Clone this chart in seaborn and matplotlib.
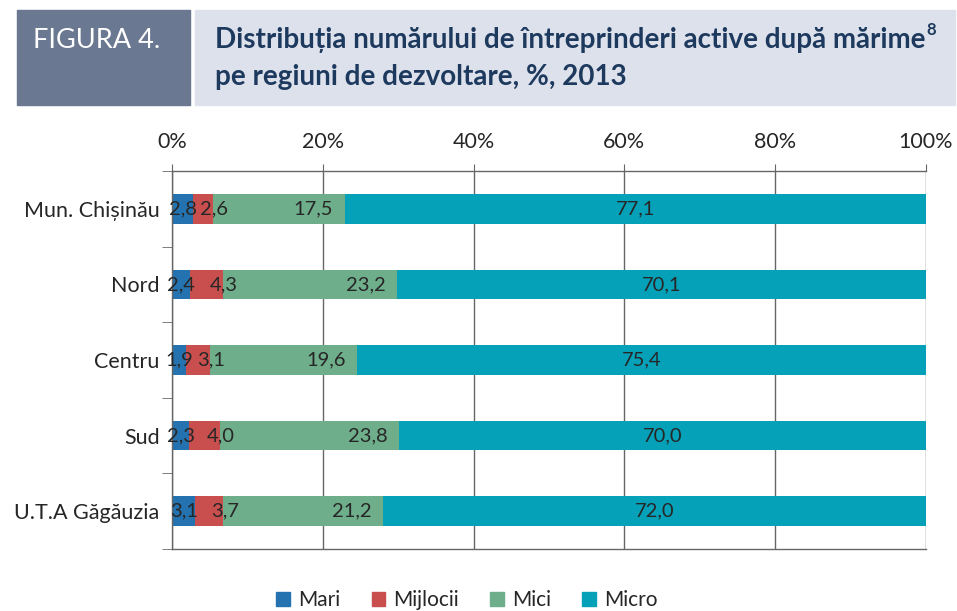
import numpy as np
import pandas as pd
import matplotlib
matplotlib.use("Agg")
import matplotlib.pyplot as plt
import matplotlib.patches as mpatches
import seaborn as sns

# data
regions = ["Mun. Chișinău", "Nord", "Centru", "Sud", "U.T.A Găgăuzia"]
series = ["Mari", "Mijlocii", "Mici", "Micro"]
mari = [2.8, 2.4, 1.9, 2.3, 3.1]
mijlocii = [2.6, 4.3, 3.1, 4.0, 3.7]
mici = [17.5, 23.2, 19.6, 23.8, 21.2]
micro = [77.1, 70.1, 75.4, 70.0, 72.0]
x_ticks = [0, 20, 40, 60, 80, 100]

colors = ["#2473b0", "#c94f4f", "#6fae8b", "#05a1b8"]

sns.set_style("white")
plt.rcParams["font.family"] = ["Lato", "DejaVu Sans"]

df = pd.DataFrame({"Regiune": regions, "Mari": mari, "Mijlocii": mijlocii,
                   "Mici": mici, "Micro": micro})
vals = df[series].to_numpy()
cum = np.cumsum(vals, axis=1)

fig = plt.figure(figsize=(9.57, 6.11), dpi=100)
ax = fig.add_axes([172 / 957, 1 - 549 / 611, (926 - 172) / 957, (549 - 171) / 611])

# stacked bars: draw cumulative totals from the back
for i in range(len(series) - 1, -1, -1):
    tmp = pd.DataFrame({"Regiune": regions, "val": cum[:, i]})
    sns.barplot(data=tmp, x="val", y="Regiune", orient="h", color=colors[i],
                width=0.39, saturation=1, ax=ax, zorder=2, linewidth=0)

# value labels
for r in range(len(regions)):
    for i in range(len(series)):
        start = cum[r, i] - vals[r, i]
        end = cum[r, i]
        txt = f"{vals[r, i]:.1f}".replace(".", ",")
        if i == 0:
            ax.text((start + end) / 2, r, txt, ha="center", va="center", fontsize=14.5, zorder=5)
        elif i == 1:
            ax.text(end + 0.2, r, txt, ha="center", va="center", fontsize=14.5, zorder=5)
        elif i == 2:
            ax.text(end - 1.5, r, txt, ha="right", va="center", fontsize=14.5, zorder=5)
        else:
            ax.text((start + end) / 2, r, txt, ha="center", va="center", fontsize=14.5, zorder=5)

ax.set_xlim(0, 100)
ax.set_ylim(4.5, -0.5)
ax.set_xticks(x_ticks)
ax.set_xticklabels([f"{t}%" for t in x_ticks], fontsize=15.5)
ax.xaxis.tick_top()
ax.tick_params(axis="x", which="major", top=True, bottom=False, length=5, color="#666666", pad=9)
ax.set_yticks(range(len(regions)))
ax.set_yticklabels(regions, fontsize=15.5)
ax.tick_params(axis="y", which="major", length=0, pad=9)
ax.set_yticks(np.arange(-0.5, 5, 1), minor=True)
ax.tick_params(axis="y", which="minor", length=7, color="#666666", left=True)
ax.set_xlabel("")
ax.set_ylabel("")
ax.grid(axis="x", color="#666666", linewidth=1, zorder=0)
ax.set_axisbelow(True)
for side in ["top", "bottom", "left"]:
    ax.spines[side].set_color("#666666")
    ax.spines[side].set_linewidth(1)
ax.spines["right"].set_visible(False)

# legend
handles = [mpatches.Patch(color=c, label=s) for c, s in zip(colors, series)]
fig.legend(handles=handles, loc="center", bbox_to_anchor=(0.488, 1 - 600 / 611), ncol=4,
           frameon=False, fontsize=15, handlelength=0.65, handleheight=0.65,
           columnspacing=1.5, handletextpad=0.4)

# header boxes
fig.patches.append(mpatches.Rectangle((17 / 957, 1 - 105 / 611), (190 - 17) / 957, 95 / 611,
                                      transform=fig.transFigure, color="#6b7891", zorder=0))
fig.patches.append(mpatches.Rectangle((195 / 957, 1 - 105 / 611), (955 - 195) / 957, 95 / 611,
                                      transform=fig.transFigure, color="#dde1eb", zorder=0))
fig.text(33 / 957, 1 - 40 / 611, "FIGURA 4.", color="white", fontsize=19.5, va="center")
title1 = fig.text(215 / 957, 1 - 40 / 611, "Distribuția numărului de întreprinderi active după mărime",
                  color="#1d3a5e", fontsize=20, fontweight="bold", va="center")
fig.canvas.draw()
bb = title1.get_window_extent()
fig.text(bb.x1 / 957 + 0.001, 1 - 30 / 611, "8", color="#1d3a5e", fontsize=12,
         fontweight="bold", va="center")
fig.text(215 / 957, 1 - 77 / 611, "pe regiuni de dezvoltare, %, 2013",
         color="#1d3a5e", fontsize=20, fontweight="bold", va="center")

fig.savefig("out.png", dpi=100)
